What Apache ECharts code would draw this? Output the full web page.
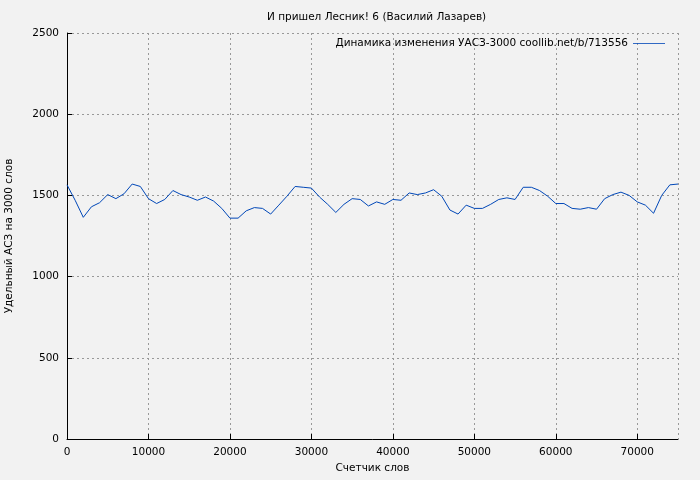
<!DOCTYPE html>
<html>
<head>
<meta charset="utf-8">
<script src="https://cdn.jsdelivr.net/npm/echarts@6/dist/echarts.min.js"></script>
<style>html,body{margin:0;padding:0;background:#f2f2f2}#c{width:700px;height:480px}</style>
</head>
<body>
<div id="c"></div>
<script>
// words counter, step 1000
const wordCounts = [];
for (let i = 0; i <= 75; i++) wordCounts.push(i * 1000);
const uasValues = [1565, 1470, 1365, 1430, 1455, 1505, 1480, 1510, 1570, 1555,
    1480, 1450, 1475, 1530, 1505, 1490, 1470, 1490, 1465, 1420,
    1360, 1360, 1405, 1425, 1420, 1385, 1440, 1495, 1555, 1550,
    1545, 1490, 1445, 1395, 1445, 1480, 1475, 1435, 1460, 1445,
    1475, 1470, 1515, 1505, 1515, 1535, 1495, 1410, 1385, 1440,
    1420, 1420, 1445, 1475, 1485, 1475, 1550, 1550, 1530, 1495,
    1450, 1450, 1420, 1415, 1425, 1415, 1480, 1505, 1520, 1500,
    1460, 1440, 1390, 1500, 1565, 1570];
const seriesName = 'Динамика изменения УАСЗ-3000 coollib.net/b/713556';

const chart = echarts.init(document.getElementById('c'));
const dashed = { show: true, lineStyle: { color: '#999', type: [2, 3], width: 1 } };
chart.setOption({
    backgroundColor: '#f2f2f2',
    animation: false,
    textStyle: { fontFamily: 'DejaVu Sans' },
    title: {
        text: 'И пришел Лесник! 6 (Василий Лазарев)',
        left: 262, top: 7,
        textStyle: { fontSize: 10.5, fontWeight: 'normal', color: '#000' }
    },
    legend: {
        right: 30, top: 33, icon: 'path://M0,0H40V1H0Z', itemWidth: 32, itemHeight: 2,
        align: 'right',
        textStyle: { fontSize: 10.5, color: '#000' },
        data: [seriesName]
    },
    grid: { left: 67, right: 22, top: 33, bottom: 41, outerBoundsMode: 'none' },
    xAxis: {
        type: 'value', min: 0, max: 75000, interval: 10000,
        name: 'Счетчик слов', nameLocation: 'middle', nameGap: 24,
        nameTextStyle: { fontSize: 10.5, color: '#000' },
        axisLine: { show: true, lineStyle: { color: '#000' } },
        axisTick: { show: true, inside: true, lineStyle: { color: '#000' } },
        axisLabel: { fontSize: 10.5, color: '#000', showMaxLabel: false, formatter: v => String(v) },
        splitLine: dashed
    },
    yAxis: {
        type: 'value', min: 0, max: 2500, interval: 500,
        name: 'Удельный АСЗ на 3000 слов', nameLocation: 'middle', nameGap: 52,
        nameTextStyle: { fontSize: 10.5, color: '#000' },
        axisLine: { show: true, lineStyle: { color: '#000' } },
        axisTick: { show: true, inside: true, lineStyle: { color: '#000' } },
        axisLabel: { fontSize: 10.5, color: '#000', formatter: v => String(v) },
        splitLine: dashed
    },
    series: [{
        name: seriesName, type: 'line', showSymbol: false,
        lineStyle: { color: '#0047b8', width: 1 }, itemStyle: { color: '#0047b8' },
        data: wordCounts.map((x, i) => [x, uasValues[i]])
    }]
});
</script>
</body>
</html>
